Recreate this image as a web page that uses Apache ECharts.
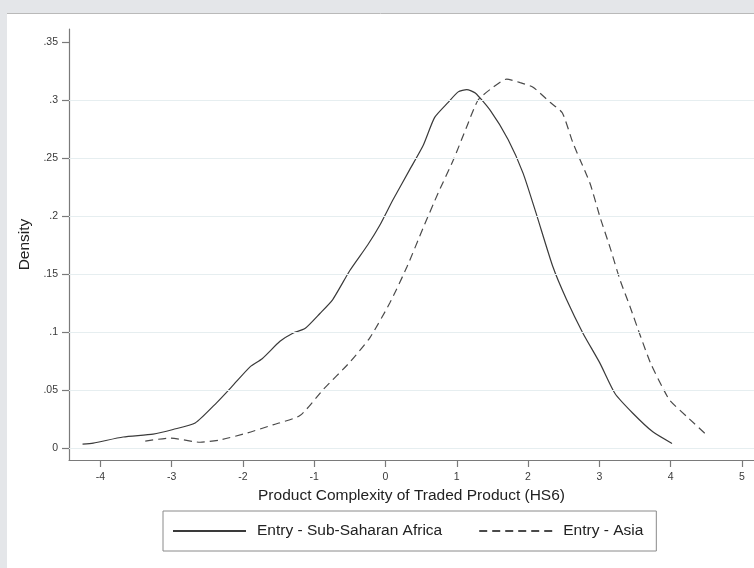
<!DOCTYPE html>
<html>
<head>
<meta charset="utf-8">
<script src="https://cdn.jsdelivr.net/npm/echarts@6/dist/echarts.min.js"></script>
<style>html,body{margin:0;padding:0;}#c{width:754px;height:568px;}</style>
</head>
<body>
<div id="c"></div>
<script>
// ---- data ----
var africaX = [-4.25,-4.10,-3.68,-3.26,-2.98,-2.67,-2.37,-2.14,-1.90,-1.73,-1.48,-1.30,-1.13,-0.92,-0.74,-0.50,-0.25,-0.08,0.105,0.34,0.53,0.69,0.88,1.02,1.14,1.26,1.47,1.72,1.93,2.12,2.35,2.54,2.77,3.01,3.22,3.47,3.75,4.02];
var africaY = [0.0034,0.0043,0.0095,0.012,0.016,0.0216,0.039,0.054,0.070,0.077,0.092,0.099,0.103,0.116,0.128,0.153,0.175,0.192,0.214,0.240,0.261,0.285,0.298,0.307,0.309,0.306,0.291,0.266,0.237,0.201,0.156,0.128,0.099,0.073,0.047,0.030,0.014,0.004];
var asiaX = [-3.37,-3.02,-2.60,-2.32,-1.94,-1.58,-1.20,-0.88,-0.50,-0.22,0.06,0.30,0.53,0.74,0.95,1.14,1.30,1.51,1.70,1.89,2.07,2.31,2.48,2.63,2.87,3.01,3.15,3.29,3.43,3.58,3.72,3.88,3.99,4.23,4.51];
var asiaY = [0.006,0.0086,0.005,0.007,0.013,0.020,0.028,0.050,0.074,0.095,0.125,0.156,0.190,0.220,0.248,0.277,0.300,0.311,0.318,0.315,0.311,0.298,0.289,0.263,0.228,0.199,0.173,0.145,0.122,0.096,0.073,0.053,0.041,0.027,0.011];
var seriesNames = ['Entry - Sub-Saharan Africa', 'Entry - Asia'];
var xTicks = [-4,-3,-2,-1,0,1,2,3,4,5];
var xTickLabels = ['-4','-3','-2','-1','0','1','2','3','4','5'];
var yTicks = [0,0.05,0.1,0.15,0.2,0.25,0.3,0.35];
var yTickLabels = ['0','.05','.1','.15','.2','.25','.3','.35'];
var gridValues = [0,0.05,0.1,0.15,0.2,0.25,0.3];
var xTitle = 'Product Complexity of Traded Product (HS6)';
var yTitle = 'Density';

function pairs(xs, ys){ return xs.map(function(x,i){ return [x, ys[i]]; }); }
function lab(ticks, labels){ return function(v){ for (var i=0;i<ticks.length;i++){ if (Math.abs(ticks[i]-v)<1e-9) return labels[i]; } return ''; }; }

var FONT = '"Liberation Sans", Arial, Helvetica, sans-serif';
var chart = echarts.init(document.getElementById('c'), null, {renderer:'canvas'});
chart.setOption({
  backgroundColor: '#e4e6e9',
  animation: false,
  textStyle: { fontFamily: FONT },
  graphic: [
    { type:'rect', left:7, top:13, z:-10, shape:{width:747, height:555}, style:{fill:'#ffffff'} },
    { type:'line', z:-9, shape:{x1:7, y1:13.5, x2:754, y2:13.5}, style:{stroke:'#b9b9b9', lineWidth:1} }
  ],
  grid: { left:69, right:0, top:29, bottom:108, containLabel:false },
  legend: {
    data: seriesNames,
    left: 163, top: 511,
    padding: [12, 13, 12, 9],
    borderColor: '#8a8a8a', borderWidth: 1,
    itemWidth: 73, itemHeight: 14, itemGap: 36,
    itemStyle: { color:'transparent', borderColor:'transparent', borderWidth:0, opacity:0 },
    textStyle: { fontSize: 15.5, color: '#222', fontFamily: FONT, padding:[0,0,0,6] }
  },
  xAxis: {
    type:'value', min:-4.44, max:5.17,
    axisLine:{ show:true, onZero:false, lineStyle:{color:'#7a7a7a', width:1.2} },
    axisTick:{ show:true, customValues:xTicks, length:7, inside:false, lineStyle:{color:'#7a7a7a', width:1.2} },
    axisLabel:{ customValues:xTicks, formatter:lab(xTicks,xTickLabels), fontSize:10.5, color:'#3a3a3a', margin:12 },
    splitLine:{ show:false },
    name: xTitle, nameLocation:'middle', nameGap:23,
    nameTextStyle:{ fontSize:15.5, color:'#222', fontFamily: FONT }
  },
  yAxis: {
    type:'value', min:-0.0103, max:0.3612,
    axisLine:{ show:true, onZero:false, lineStyle:{color:'#7a7a7a', width:1.2} },
    axisTick:{ show:true, customValues:yTicks, length:7, inside:false, lineStyle:{color:'#7a7a7a', width:1.2} },
    axisLabel:{ customValues:yTicks, formatter:lab(yTicks,yTickLabels), fontSize:10.5, color:'#3a3a3a', margin:11 },
    splitLine:{ show:false },
    name: yTitle, nameLocation:'middle', nameGap:31, nameRotate:90,
    nameTextStyle:{ fontSize:15.5, color:'#222', fontFamily: FONT }
  },
  series: [
    { name:'grid', type:'line', data:[], z:1, silent:true,
      markLine:{ silent:true, symbol:'none', label:{show:false}, animation:false,
        lineStyle:{ color:'#e6eef0', type:'solid', width:1.2 },
        data: gridValues.map(function(v){ return { yAxis:v }; }) } },
    { name:seriesNames[0], type:'line', data:pairs(africaX, africaY), showSymbol:false, symbol:'none', smooth:0.2, z:3,
      lineStyle:{ color:'#3a3a3a', width:1.2, type:'solid' }, itemStyle:{color:'#3a3a3a'} },
    { name:seriesNames[1], type:'line', data:pairs(asiaX, asiaY), showSymbol:false, symbol:'none', smooth:0.2, z:3,
      lineStyle:{ color:'#4a4a4a', width:1.2, type:[8,5] }, itemStyle:{color:'#4a4a4a'} }
  ]
});
</script>
</body>
</html>
